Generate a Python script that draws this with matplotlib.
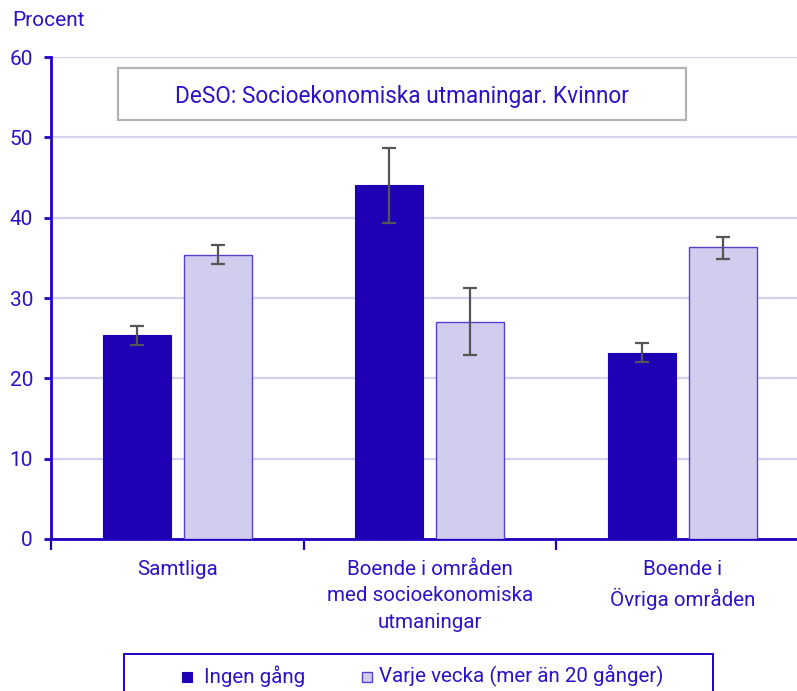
import matplotlib
matplotlib.use("Agg")
import matplotlib.pyplot as plt
import numpy as np
from matplotlib.patches import Rectangle

plt.rcParams['font.family'] = ['Roboto', 'DejaVu Sans']

categories = ["Samtliga", "Boende i områden\nmed socioekonomiska\nutmaningar", "Boende i\nÖvriga områden"]
series_names = ["Ingen gång", "Varje vecka (mer än 20 gånger)"]
ingen = [25.4, 44.1, 23.1]
ingen_lo = [24.1, 39.3, 22.0]
ingen_hi = [26.5, 48.7, 24.4]
varje = [35.3, 27.0, 36.3]
varje_lo = [34.2, 22.9, 34.9]
varje_hi = [36.6, 31.2, 37.6]
yticks = [0, 10, 20, 30, 40, 50, 60]
title_text = "DeSO: Socioekonomiska utmaningar. Kvinnor"

TXT = "#2a12c8"
AX = "#2200c0"
DARK = "#2000b4"
LIGHT = "#d0cdee"
LEDGE = "#5a3ed0"
GRID = "#d4d2f2"
ERR = "#555555"

W, H = 797, 691
fig = plt.figure(figsize=(W/100, H/100), dpi=100)
ax = fig.add_axes([51/W, 1-539/H, (W-51)/W, (539-57)/H])

x = np.arange(len(categories))
off = 0.16
bw = 0.27
ax.bar(x-off, ingen, bw, color=DARK, edgecolor=DARK, linewidth=0.8, zorder=3)
ax.bar(x+off, varje, bw, color=LIGHT, edgecolor=LEDGE, linewidth=1.0, zorder=3)
ie = np.array([np.array(ingen)-np.array(ingen_lo), np.array(ingen_hi)-np.array(ingen)])
ve = np.array([np.array(varje)-np.array(varje_lo), np.array(varje_hi)-np.array(varje)])
ax.errorbar(x-off, ingen, yerr=ie, fmt='none', ecolor=ERR, elinewidth=1.6, capsize=5, capthick=1.6, zorder=4)
ax.errorbar(x+off, varje, yerr=ve, fmt='none', ecolor=ERR, elinewidth=1.6, capsize=5, capthick=1.6, zorder=4)

ax.set_ylim(0, 60)
ax.set_xlim(-0.5, -0.5 + (W-51)/252.5)
ax.set_yticks(yticks)
ax.set_yticklabels([str(v) for v in yticks], color=TXT, fontsize=15)
ax.yaxis.grid(True, color=GRID, linewidth=1.6, zorder=0)
ax.set_axisbelow(True)
ax.tick_params(axis='y', length=5, width=2, color=AX, pad=8)

ax.set_xticks(x)
ax.set_xticklabels(categories, color=TXT, fontsize=14.8, linespacing=1.5, va='top')
ax.tick_params(axis='x', which='major', length=0, pad=15)
ax.set_xticks([-0.5, 0.5, 1.5], minor=True)
ax.tick_params(axis='x', which='minor', length=8, width=1.6, color=AX, direction='out')

for s in ['top', 'right']:
    ax.spines[s].set_visible(False)
ax.spines['left'].set_color(AX)
ax.spines['left'].set_linewidth(2)
ax.spines['bottom'].set_color(AX)
ax.spines['bottom'].set_linewidth(2)

fig.text(12/W, 1-20/H, "Procent", color=TXT, fontsize=15, va='center', ha='left')

# title box
fig.patches.append(Rectangle((118/W, 1-120/H), (686-118)/W, (120-68)/H, transform=fig.transFigure,
                             facecolor='white', edgecolor='#b4b4b4', linewidth=1.6, zorder=5))
fig.text(402/W, 1-96/H, title_text, color=TXT, fontsize=16.3, ha='center', va='center', zorder=6)

# legend box
fig.patches.append(Rectangle((124/W, 1-700/H), (713-124)/W, (700-654)/H, transform=fig.transFigure,
                             facecolor='white', edgecolor=AX, linewidth=1.4, zorder=5))
fig.patches.append(Rectangle((182/W, 1-682/H), 10/W, 10/H, transform=fig.transFigure,
                             facecolor=DARK, edgecolor=DARK, linewidth=0.8, zorder=6))
fig.text(204/W, 1-676/H, series_names[0], color=TXT, fontsize=14.8, ha='left', va='center', zorder=6)
fig.patches.append(Rectangle((362/W, 1-682/H), 10/W, 10/H, transform=fig.transFigure,
                             facecolor=LIGHT, edgecolor=LEDGE, linewidth=1.0, zorder=6))
fig.text(379/W, 1-676/H, series_names[1], color=TXT, fontsize=14.8, ha='left', va='center', zorder=6)

fig.savefig("out.png", dpi=100)
